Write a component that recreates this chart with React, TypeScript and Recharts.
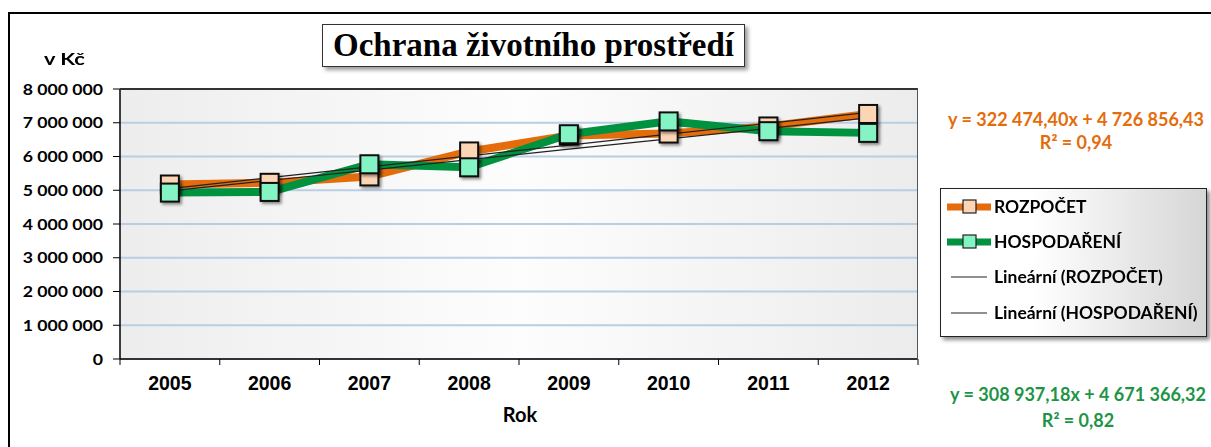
import React from "react";
import { LineChart, Line, XAxis, YAxis, CartesianGrid } from "recharts";

const years = ["2005", "2006", "2007", "2008", "2009", "2010", "2011", "2012"];
const rozpocet = [5170000, 5220000, 5410000, 6150000, 6620000, 6680000, 6890000, 7260000];
const hospodareni = [4930000, 4950000, 5770000, 5680000, 6660000, 7040000, 6750000, 6700000];
const yTicks = [0, 1000000, 2000000, 3000000, 4000000, 5000000, 6000000, 7000000, 8000000];

// trendline coefficients as printed on the chart
const trendRozpocet = { slope: 322474.4, intercept: 4726856.43 };
const trendHospodareni = { slope: 308937.18, intercept: 4671366.32 };

const ORANGE = "#E46C0A";
const ORANGE_FILL = "#FCD5B5";
const GREEN = "#00923F";
const GREEN_FILL = "#84F4C4";
const FONT = "Lato, 'Open Sans', sans-serif";
const ARIAL = "'Liberation Sans', Arial, sans-serif";

const W = 1211;
const H = 447;
const PLOT = { left: 120, top: 89, right: 918, bottom: 359 };
const HALF_BAND = (PLOT.right - PLOT.left) / years.length / 2;

const chartData = years.map((year, i) => ({
  year,
  rozpocet: rozpocet[i],
  hospodareni: hospodareni[i],
  trendR: trendRozpocet.slope * (i + 1) + trendRozpocet.intercept,
  trendH: trendHospodareni.slope * (i + 1) + trendHospodareni.intercept,
}));

const fmt = (v: number) => String(v).replace(/\B(?=(\d{3})+(?!\d))/g, " ");

function SquareDot(props: any) {
  const { cx, cy, fill } = props;
  if (cx == null || cy == null) return null;
  const s = 18;
  return (
    <rect
      x={cx - s / 2}
      y={cy - s / 2}
      width={s}
      height={s}
      fill={fill}
      stroke="#111"
      strokeWidth={2}
      filter="url(#dotShadow)"
    />
  );
}

function YearTick(props: any) {
  const { x, y, payload, index } = props;
  return (
    <g>
      <line x1={x - HALF_BAND} y1={y} x2={x - HALF_BAND} y2={y + 6} stroke="#000" />
      {index === years.length - 1 && (
        <line x1={x + HALF_BAND} y1={y} x2={x + HALF_BAND} y2={y + 6} stroke="#000" />
      )}
      <text x={x} y={y + 31} textAnchor="middle" fontSize={19.5} fontWeight={700} fill="#000" fontFamily={ARIAL}>
        {payload.value}
      </text>
    </g>
  );
}

function ValueTick(props: any) {
  const { x, y, payload } = props;
  return (
    <text
      x={x}
      y={y}
      dy="0.36em"
      textAnchor="end"
      fontSize={15.5}
      fontWeight={700}
      fill="#000"
      transform={`translate(${x},0) scale(1.14,1) translate(${-x},0)`}
    >
      {fmt(payload.value)}
    </text>
  );
}

function LegendRow({ kind, label, top }: { kind: "o" | "g" | "t"; label: string; top: number }) {
  return (
    <div style={{ position: "absolute", left: 6, top, height: 20, display: "flex", alignItems: "center" }}>
      <svg width={46} height={20}>
        {kind === "t" ? (
          <line x1={4} y1={10} x2={40} y2={10} stroke="#222" strokeWidth={1.2} />
        ) : (
          <>
            <line x1={0} y1={10} x2={44} y2={10} stroke={kind === "o" ? ORANGE : GREEN} strokeWidth={7} />
            <rect x={16} y={3} width={13} height={13} fill={kind === "o" ? ORANGE_FILL : GREEN_FILL} stroke="#222" strokeWidth={1.2} />
          </>
        )}
      </svg>
      <span style={{ fontSize: 16.5, fontWeight: 700, marginLeft: 1, whiteSpace: "nowrap", display: "inline-block", transform: "scaleX(1.06)", transformOrigin: "left center" }}>
        {label}
      </span>
    </div>
  );
}

export default function App() {
  return (
    <div style={{ position: "absolute", left: 0, top: 0, width: W, height: H, overflow: "hidden", fontFamily: FONT, background: "#fff" }}>
      <svg width={0} height={0} style={{ position: "absolute" }}>
        <defs>
          <linearGradient id="plotBg" x1="0" y1="0" x2="1" y2="0">
            <stop offset="0%" stopColor="#ededed" />
            <stop offset="50%" stopColor="#fdfdfd" />
            <stop offset="100%" stopColor="#ececec" />
          </linearGradient>
          <filter id="dotShadow" x="-50%" y="-50%" width="200%" height="200%">
            <feDropShadow dx={2} dy={2} stdDeviation={1.5} floodColor="#000" floodOpacity={0.45} />
          </filter>
        </defs>
      </svg>

      <div style={{ position: "absolute", left: 8, top: 12, width: 1300, height: 600, border: "2px solid #000" }} />

      <LineChart
        width={W}
        height={H}
        data={chartData}
        margin={{ top: PLOT.top, right: W - PLOT.right, bottom: H - PLOT.bottom - 60, left: 0 }}
        style={{ position: "absolute", left: 0, top: 0 }}
      >
        <CartesianGrid vertical={false} stroke="#B9CDE5" strokeWidth={2} fill="url(#plotBg)" fillOpacity={1} />
        <XAxis
          dataKey="year"
          height={60}
          padding={{ left: HALF_BAND, right: HALF_BAND }}
          axisLine={{ stroke: "#000", strokeWidth: 1.5 }}
          tickLine={false}
          tickSize={0}
          tickMargin={0}
          tick={<YearTick />}
          interval={0}
        />
        <YAxis
          width={PLOT.left}
          domain={[0, 8000000]}
          ticks={yTicks}
          interval={0}
          axisLine={{ stroke: "#000", strokeWidth: 1.5 }}
          tickLine={{ stroke: "#000" }}
          tickSize={7}
          tickMargin={10}
          tick={<ValueTick />}
        />
        <Line
          dataKey="rozpocet"
          stroke={ORANGE}
          strokeWidth={8}
          dot={<SquareDot fill={ORANGE_FILL} />}
          isAnimationActive={false}
        />
        <Line
          dataKey="hospodareni"
          stroke={GREEN}
          strokeWidth={8}
          dot={<SquareDot fill={GREEN_FILL} />}
          isAnimationActive={false}
        />
        <Line dataKey="trendR" stroke="#222" strokeWidth={1.2} dot={false} isAnimationActive={false} />
        <Line dataKey="trendH" stroke="#222" strokeWidth={1.2} dot={false} isAnimationActive={false} />
      </LineChart>

      <div
        style={{
          position: "absolute",
          left: PLOT.left,
          top: PLOT.top - 1,
          width: PLOT.right - PLOT.left - 1,
          height: PLOT.bottom - PLOT.top,
          borderTop: "2px solid #333",
          borderRight: "1.5px solid #555",
          pointerEvents: "none",
        }}
      />

      <div
        style={{
          position: "absolute",
          left: 44,
          top: 50,
          fontSize: 17,
          lineHeight: "17px",
          fontWeight: 700,
          whiteSpace: "nowrap",
          transform: "scaleX(1.28)",
          transformOrigin: "left center",
        }}
      >
        v Kč
      </div>

      <div
        style={{
          position: "absolute",
          left: 320,
          width: 400,
          top: 404,
          textAlign: "center",
          fontSize: 20,
          lineHeight: "20px",
          fontWeight: 700,
        }}
      >
        Rok
      </div>

      <div
        style={{
          position: "absolute",
          left: 322,
          top: 24,
          width: 421,
          height: 41,
          border: "1.5px solid #333",
          background: "#fff",
          boxShadow: "3px 3px 4px rgba(0,0,0,0.4)",
          fontFamily: "'Liberation Serif', 'DejaVu Serif', serif",
          fontSize: 33,
          fontWeight: 700,
          textAlign: "center",
          lineHeight: "41px",
          whiteSpace: "nowrap",
        }}
      >
        Ochrana životního prostředí
      </div>

      <div style={{ position: "absolute", left: 926, width: 300, top: 108, textAlign: "center", color: ORANGE, fontSize: 18, fontWeight: 700, lineHeight: "23px", whiteSpace: "nowrap" }}>
        y = 322 474,40x + 4 726 856,43
        <br />
        R² = 0,94
      </div>

      <div style={{ position: "absolute", left: 928, width: 300, top: 381, textAlign: "center", color: "#1E9447", fontSize: 18, fontWeight: 700, lineHeight: "26px", whiteSpace: "nowrap" }}>
        y = 308 937,18x + 4 671 366,32
        <br />
        R² = 0,82
      </div>

      <div
        style={{
          position: "absolute",
          left: 940,
          top: 188,
          width: 265,
          height: 147,
          border: "1.5px solid #222",
          background: "linear-gradient(to right, #ffffff 35%, #d6d6d6 100%)",
          boxShadow: "3px 3px 4px rgba(0,0,0,0.45)",
        }}
      >
        <LegendRow kind="o" label="ROZPOČET" top={8} />
        <LegendRow kind="g" label="HOSPODAŘENÍ" top={43} />
        <LegendRow kind="t" label="Lineární (ROZPOČET)" top={78} />
        <LegendRow kind="t" label="Lineární (HOSPODAŘENÍ)" top={114} />
      </div>
    </div>
  );
}
